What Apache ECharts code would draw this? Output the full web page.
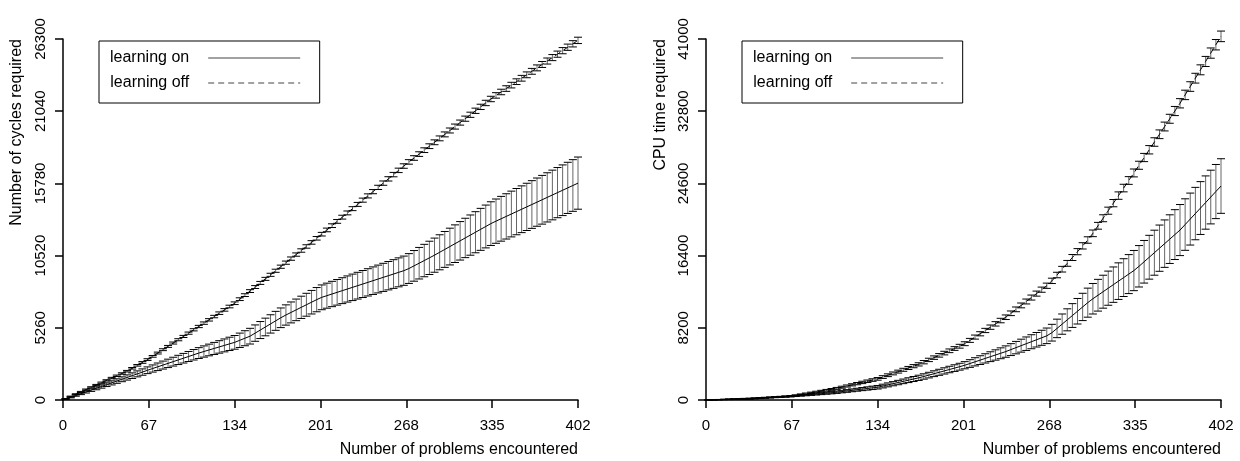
<!DOCTYPE html>
<html>
<head>
<meta charset="utf-8">
<script src="https://cdn.jsdelivr.net/npm/echarts@6/dist/echarts.min.js"></script>
<style>
  html, body { margin: 0; padding: 0; background: #fff; }
  #chart { width: 1240px; height: 461px; }
</style>
</head>
<body>
<div id="chart"></div>
<script>
// ---------------- data ----------------
const problems = [2,6,10,14,18,22,26,30,34,38,42,46,50,54,58,62,66,70,74,78,82,86,90,94,98,102,106,110,114,118,122,126,130,134,138,142,146,150,154,158,162,166,170,174,178,182,186,190,194,198,202,206,210,214,218,222,226,230,234,238,242,246,250,254,258,262,266,270,274,278,282,286,290,294,298,302,306,310,314,318,322,326,330,334,338,342,346,350,354,358,362,366,370,374,378,382,386,390,394,398,402];

const xTicks = [0, 67, 134, 201, 268, 335, 402];
const cyclesTicks = [0, 5260, 10520, 15780, 21040, 26300];
const cpuTicks = [0, 8200, 16400, 24600, 32800, 41000];

const seriesNames = ['learning on', 'learning off'];

// left panel: number of cycles required
const cyclesOn = [66,197,328,460,590,722,853,985,1115,1247,
1378,1510,1640,1772,1903,2035,2167,2294,2419,2544,
2669,2794,2919,3044,3169,3294,3419,3533,3645,3756,
3867,3978,4089,4200,4350,4500,4650,4873,5096,5320,
5543,5766,5990,6193,6380,6566,6752,6939,7125,7310,
7480,7600,7723,7844,7965,8086,8208,8329,8450,8571,
8693,8814,8935,9056,9178,9300,9420,9577,9772,9966,
10160,10355,10552,10761,10970,11179,11388,11597,11806,12014,
12223,12432,12641,12850,13030,13203,13376,13550,13723,13896,
14069,14242,14415,14588,14762,14935,15108,15281,15454,15627,
15800];
const cyclesOnErr = [27,40,54,68,81,95,108,122,136,149,
163,176,190,204,217,231,245,261,276,291,
306,321,336,351,366,381,395,410,425,440,
455,470,485,500,524,548,572,596,620,643,
667,691,715,739,763,787,810,834,858,882,
903,913,923,933,943,953,964,974,984,994,
1004,1014,1024,1034,1045,1055,1065,1086,1117,1149,
1181,1212,1244,1276,1307,1339,1371,1402,1434,1466,
1497,1529,1560,1592,1613,1631,1649,1667,1685,1703,
1721,1739,1757,1775,1793,1810,1828,1846,1864,1882,
1900];
const cyclesOff = [80,250,420,590,760,925,1090,1260,1430,1600,
1765,1930,2100,2310,2525,2735,2945,3180,3420,3665,
3905,4150,4390,4630,4870,5115,5355,5600,5840,6080,
6325,6565,6810,7050,7345,7640,7935,8230,8530,8825,
9120,9415,9710,10005,10300,10595,10890,11185,11480,11780,
12080,12390,12700,13010,13320,13630,13940,14250,14560,14870,
15180,15490,15800,16110,16420,16730,17045,17345,17630,17915,
18200,18490,18775,19060,19350,19635,19920,20210,20495,20780,
21070,21355,21640,21930,22190,22440,22690,22940,23190,23440,
23690,23945,24195,24445,24695,24945,25195,25450,25700,25950,
26200];
const cyclesOffErr = [31,34,35,36,40,41,44,45,46,50,
51,52,56,57,58,62,63,64,68,69,
70,74,75,76,80,81,82,86,87,88,
92,93,96,97,100,101,104,105,108,109,
112,113,116,117,120,121,124,125,128,129,
132,133,136,137,140,141,144,145,148,149,
152,153,156,157,160,161,164,165,168,169,
172,173,176,177,180,181,184,185,188,189,
192,193,196,197,200,201,204,205,208,209,
212,213,216,217,220,221,224,225,228,229,
232];

// right panel: CPU time required
const cpuOn = [11,32,53,74,95,116,138,159,180,209,
238,268,297,326,355,384,413,459,511,563,
615,667,720,772,824,885,956,1026,1097,1168,
1238,1309,1379,1450,1583,1717,1850,1983,2117,2250,
2383,2517,2669,2828,2987,3146,3304,3463,3622,3781,
3948,4142,4336,4530,4724,4918,5112,5306,5500,5724,
5947,6171,6394,6618,6841,7065,7288,7644,8131,8619,
9106,9594,10081,10569,11056,11500,11900,12300,12700,13100,
13500,13900,14300,14700,15186,15700,16214,16729,17243,17757,
18271,18786,19300,19925,20550,21175,21800,22425,23050,23675,
24300];
const cpuOnErr = [2,5,9,13,16,20,23,27,31,34,
38,41,45,48,52,56,59,66,75,83,
91,100,108,116,125,133,141,150,158,166,
175,183,192,200,212,224,236,248,260,272,
284,296,307,319,331,343,355,367,379,391,
407,437,467,497,527,557,587,616,646,676,
706,736,766,796,825,855,885,950,1050,1150,
1250,1350,1450,1550,1650,1734,1803,1871,1940,2009,
2077,2146,2214,2283,2351,2420,2489,2557,2626,2694,
2763,2831,2900,2925,2950,2975,3000,3025,3050,3075,
3100];
const cpuOff = [6,19,32,45,58,71,84,97,110,151,
192,234,275,316,357,398,440,523,620,717,
814,911,1008,1105,1202,1318,1453,1588,1723,1859,
1994,2129,2265,2400,2606,2812,3018,3224,3430,3636,
3842,4048,4294,4553,4812,5071,5329,5588,5847,6106,
6394,6770,7145,7521,7897,8272,8648,9024,9400,9847,
10294,10741,11188,11635,12082,12529,12976,13531,14194,14856,
15519,16181,16844,17506,18169,18929,19786,20643,21500,22357,
23214,24071,24929,25786,26660,27540,28420,29300,30180,31060,
31940,32820,33700,34650,35600,36550,37500,38450,39400,40350,
41300];
const cpuOffErr = [3,6,9,12,15,18,22,25,29,33,
36,40,44,47,51,55,59,64,69,75,
80,85,91,96,101,107,112,118,123,128,
134,139,144,150,154,158,163,167,171,175,
179,183,188,192,196,200,204,208,212,217,
221,226,231,236,240,245,250,255,260,264,
269,274,279,284,288,293,298,304,313,322,
331,340,349,358,367,376,385,394,403,412,
421,430,439,448,457,466,475,484,493,501,
510,519,528,537,546,555,564,573,582,591,
600];

// ---------------- chart ----------------
const FONT = "'Liberation Sans', Arial, Helvetica, sans-serif";
const chart = echarts.init(document.getElementById('chart'), null, { renderer: 'canvas' });

function pairs(mean) { return problems.map((x, i) => [x, mean[i]]); }
function bars(mean, err) { return problems.map((x, i) => [x, mean[i] - err[i], mean[i] + err[i]]); }

function renderErrorBar(params, api) {
  const x = api.value(0);
  const lo = api.coord([x, api.value(1)]);
  const hi = api.coord([x, api.value(2)]);
  const w = 4;
  return {
    type: 'group',
    children: [
      { type: 'line', shape: { x1: lo[0], y1: lo[1], x2: hi[0], y2: hi[1] }, style: { stroke: '#666', lineWidth: 1 } },
      { type: 'line', shape: { x1: hi[0] - w, y1: hi[1], x2: hi[0] + w, y2: hi[1] }, style: { stroke: '#000', lineWidth: 1 } },
      { type: 'line', shape: { x1: lo[0] - w, y1: lo[1], x2: lo[0] + w, y2: lo[1] }, style: { stroke: '#000', lineWidth: 1 } }
    ]
  };
}

const plain = v => String(v);

function xAxisCfg(gi) {
  return {
    type: 'value', gridIndex: gi,
    min: xTicks[0], max: xTicks[xTicks.length - 1], interval: xTicks[1] - xTicks[0],
    axisLine: { show: true, onZero: false, lineStyle: { color: '#000', width: 1.5 } },
    axisTick: { show: true, length: 8, lineStyle: { color: '#000', width: 1.5 } },
    axisLabel: { color: '#000', fontSize: 15, fontFamily: FONT, margin: 18, formatter: plain },
    splitLine: { show: false }
  };
}
function yAxisCfg(gi, ticks) {
  return {
    type: 'value', gridIndex: gi,
    min: ticks[0], max: ticks[ticks.length - 1], interval: ticks[1] - ticks[0],
    axisLine: { show: true, onZero: false, lineStyle: { color: '#000', width: 1.5 } },
    axisTick: { show: true, length: 8, lineStyle: { color: '#000', width: 1.5 } },
    axisLabel: { color: '#000', fontSize: 15, fontFamily: FONT, margin: 15, rotate: 90, formatter: plain },
    splitLine: { show: false }
  };
}
function legendCfg(left) {
  return {
    left: left, top: 41,
    orient: 'vertical', align: 'right',
    data: seriesNames,
    itemWidth: 92, itemHeight: 14, itemGap: 9,
    padding: [9, 19, 12, 11],
    borderColor: '#000', borderWidth: 1,
    selectedMode: false,
    itemStyle: { opacity: 0 },
    lineStyle: { color: '#444', width: 1 },
    textStyle: { color: '#000', fontSize: 16, fontFamily: FONT, padding: [0, 14, 0, 0] }
  };
}

function panelSeries(gi, onMean, onErr, offMean, offErr) {
  return [
    { name: 'err-off-' + gi, type: 'custom', xAxisIndex: gi, yAxisIndex: gi, renderItem: renderErrorBar,
      data: bars(offMean, offErr), encode: { x: 0, y: [1, 2] }, clip: false, z: 2 },
    { name: 'err-on-' + gi, type: 'custom', xAxisIndex: gi, yAxisIndex: gi, renderItem: renderErrorBar,
      data: bars(onMean, onErr), encode: { x: 0, y: [1, 2] }, clip: false, z: 2 },
    { name: seriesNames[0], type: 'line', xAxisIndex: gi, yAxisIndex: gi, data: pairs(onMean),
      symbol: 'none', clip: false, color: '#000', z: 3,
      lineStyle: { color: '#000', width: 1, type: 'solid' } },
    { name: seriesNames[1], type: 'line', xAxisIndex: gi, yAxisIndex: gi, data: pairs(offMean),
      symbol: 'none', clip: false, color: '#000', z: 3,
      lineStyle: { color: '#000', width: 1, type: [6, 4] } }
  ];
}

const textStyle = { fill: '#000', font: '16px ' + FONT };

chart.setOption({
  animation: false,
  backgroundColor: '#fff',
  grid: [
    { left: 63, right: 662, top: 39, bottom: 61 },
    { left: 706, right: 19, top: 39, bottom: 61 }
  ],
  xAxis: [xAxisCfg(0), xAxisCfg(1)],
  yAxis: [yAxisCfg(0, cyclesTicks), yAxisCfg(1, cpuTicks)],
  legend: [legendCfg(99), legendCfg(742)],
  graphic: [
    { type: 'text', x: 17, y: 39, rotation: Math.PI / 2,
      style: Object.assign({ text: 'Number of cycles required', align: 'right', verticalAlign: 'middle' }, textStyle) },
    { type: 'text', x: 661, y: 39, rotation: Math.PI / 2,
      style: Object.assign({ text: 'CPU time required', align: 'right', verticalAlign: 'middle' }, textStyle) },
    { type: 'text', x: 578, y: 450,
      style: Object.assign({ text: 'Number of problems encountered', align: 'right', verticalAlign: 'middle' }, textStyle) },
    { type: 'text', x: 1221, y: 450,
      style: Object.assign({ text: 'Number of problems encountered', align: 'right', verticalAlign: 'middle' }, textStyle) }
  ],
  series: [].concat(
    panelSeries(0, cyclesOn, cyclesOnErr, cyclesOff, cyclesOffErr),
    panelSeries(1, cpuOn, cpuOnErr, cpuOff, cpuOffErr)
  )
});
</script>
</body>
</html>
